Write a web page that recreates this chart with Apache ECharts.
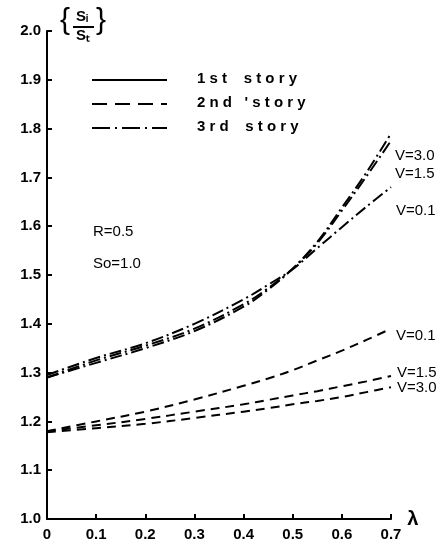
<!DOCTYPE html>
<html>
<head>
<meta charset="utf-8">
<script src="https://cdn.jsdelivr.net/npm/echarts@6/dist/echarts.min.js"></script>
<style>html,body{margin:0;padding:0;background:#fff}#c{width:443px;height:555px}</style>
</head>
<body>
<div id="c"></div>
<script>
const lambda = [0, 0.1, 0.2, 0.3, 0.4, 0.45, 0.5, 0.55, 0.6, 0.65, 0.7];
// 3rd story (upper group, dash-dot)
const third_v30 = [1.29, 1.32, 1.35, 1.385, 1.435, 1.47, 1.513, 1.568, 1.638, 1.71, 1.79];
const third_v15 = [1.29, 1.325, 1.355, 1.39, 1.44, 1.473, 1.513, 1.565, 1.632, 1.702, 1.775];
const third_v01 = [1.295, 1.33, 1.36, 1.40, 1.45, 1.48, 1.512, 1.555, 1.598, 1.64, 1.68];
// 2nd story (lower group, dashed)
const second_v01 = [1.18, 1.20, 1.22, 1.245, 1.273, 1.288, 1.305, 1.325, 1.345, 1.367, 1.39];
const second_v15 = [1.18, 1.192, 1.205, 1.22, 1.235, 1.244, 1.253, 1.262, 1.272, 1.282, 1.293];
const second_v30 = [1.178, 1.186, 1.195, 1.207, 1.22, 1.227, 1.235, 1.242, 1.25, 1.26, 1.27];
const xTicks = ['0', '0.1', '0.2', '0.3', '0.4', '0.5', '0.6', '0.7'];
const yTicks = ['1.0','1.1','1.2','1.3','1.4','1.5','1.6','1.7','1.8','1.9','2.0'];

const FONT = '"Liberation Sans", Arial, sans-serif';
const chart = echarts.init(document.getElementById('c'));
const pair = arr => lambda.map((x, i) => [x, arr[i]]);
const dashDot = [12, 4, 2, 4];
const dashed = [9, 6];
function mk(name, arr, dash) {
  return {
    name, type: 'line', data: pair(arr), smooth: 0.35, symbol: 'none',
    lineStyle: { color: '#000', width: 2, type: dash },
    emphasis: { disabled: true }, silent: true
  };
}
chart.setOption({
  animation: false,
  backgroundColor: '#fff',
  grid: { left: 47, right: 52, top: 31, bottom: 36 },
  xAxis: {
    type: 'value', min: 0, max: 0.7, interval: 0.1,
    name: 'λ', nameLocation: 'end', nameGap: 14,
    nameTextStyle: { color: '#000', fontSize: 20, fontWeight: 'bold', fontFamily: FONT, verticalAlign: 'middle', padding: [0, 0, 8, 0] },
    axisLine: { lineStyle: { color: '#000', width: 2 } },
    axisTick: { inside: true, length: 5, lineStyle: { color: '#000', width: 2 } },
    splitLine: { show: false },
    axisLabel: {
      color: '#000', fontSize: 15, fontWeight: 'bold', fontFamily: FONT, margin: 8,
      formatter: v => xTicks[Math.round(v * 10)]
    }
  },
  yAxis: {
    type: 'value', min: 1.0, max: 2.0, interval: 0.1,
    axisLine: { show: true, lineStyle: { color: '#000', width: 2 } },
    axisTick: { show: true, inside: true, length: 5, lineStyle: { color: '#000', width: 2 } },
    splitLine: { show: false },
    axisLabel: {
      color: '#000', fontSize: 15, fontWeight: 'bold', fontFamily: FONT, margin: 6,
      formatter: v => yTicks[Math.round((v - 1) * 10)]
    }
  },
  series: [
    mk('3rd v=3.0', third_v30, dashDot),
    mk('3rd v=1.5', third_v15, dashDot),
    mk('3rd v=0.1', third_v01, dashDot),
    mk('2nd v=0.1', second_v01, dashed),
    mk('2nd v=1.5', second_v15, dashed),
    mk('2nd v=3.0', second_v30, dashed)
  ],
  graphic: [
    // y-axis title {Si/St}
    { type: 'text', left: 60, top: 6, style: { text: '{', font: '30px ' + FONT, fill: '#000' } },
    { type: 'text', left: 76, top: 9, style: { text: 'Sᵢ', font: 'bold 15px ' + FONT, fill: '#000' } },
    { type: 'line', shape: { x1: 73, y1: 27, x2: 94, y2: 27 }, style: { stroke: '#000', lineWidth: 2 } },
    { type: 'text', left: 76, top: 28, style: { text: 'Sₜ', font: 'bold 15px ' + FONT, fill: '#000' } },
    { type: 'text', left: 96, top: 6, style: { text: '}', font: '30px ' + FONT, fill: '#000' } },
    // legend
    { type: 'line', shape: { x1: 92, y1: 80, x2: 167, y2: 80 }, style: { stroke: '#000', lineWidth: 2 } },
    { type: 'line', shape: { x1: 92, y1: 104, x2: 167, y2: 104 }, style: { stroke: '#000', lineWidth: 2, lineDash: [15, 8] } },
    { type: 'line', shape: { x1: 92, y1: 128, x2: 167, y2: 128 }, style: { stroke: '#000', lineWidth: 2, lineDash: [18, 5, 2, 5] } },
    { type: 'text', left: 197, top: 71, style: { text: '1 s t    s t o r y', font: 'bold 15px ' + FONT, fill: '#000' } },
    { type: 'text', left: 197, top: 95, style: { text: '2 n d   \' s t o r y', font: 'bold 15px ' + FONT, fill: '#000' } },
    { type: 'text', left: 197, top: 119, style: { text: '3 r d    s t o r y', font: 'bold 15px ' + FONT, fill: '#000' } },
    // parameters
    { type: 'text', left: 93, top: 224, style: { text: 'R=0.5', font: '15px ' + FONT, fill: '#000' } },
    { type: 'text', left: 93, top: 256, style: { text: 'So=1.0', font: '15px ' + FONT, fill: '#000' } },
    // curve labels
    { type: 'text', left: 395, top: 148, style: { text: 'V=3.0', font: '15px ' + FONT, fill: '#000' } },
    { type: 'text', left: 395, top: 166, style: { text: 'V=1.5', font: '15px ' + FONT, fill: '#000' } },
    { type: 'text', left: 396, top: 203, style: { text: 'V=0.1', font: '15px ' + FONT, fill: '#000' } },
    { type: 'text', left: 396, top: 328, style: { text: 'V=0.1', font: '15px ' + FONT, fill: '#000' } },
    { type: 'text', left: 397, top: 365, style: { text: 'V=1.5', font: '15px ' + FONT, fill: '#000' } },
    { type: 'text', left: 397, top: 380, style: { text: 'V=3.0', font: '15px ' + FONT, fill: '#000' } }
  ]
});
</script>
</body>
</html>
